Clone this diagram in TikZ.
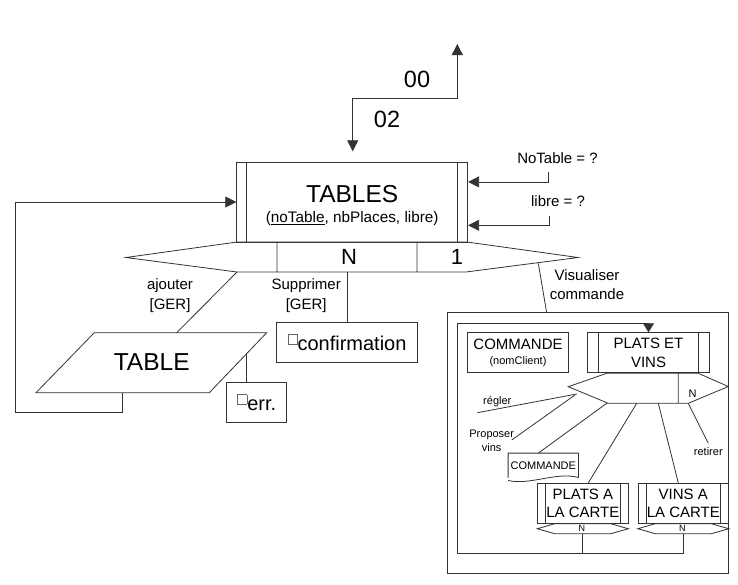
\documentclass[tikz,border=0pt]{standalone}
\usepackage{fontspec}
\setmainfont{Liberation Sans}
\usetikzlibrary{arrows.meta, positioning, calc}

% small check square put before a text
\newcommand{\chkbox}{\raisebox{7pt}{\setlength{\fboxsep}{0pt}\setlength{\fboxrule}{0.7pt}%
  \fcolorbox{black!60}{white}{\rule{0pt}{8.6pt}\rule{8.6pt}{0pt}}}}

\begin{document}
\begin{tikzpicture}[
    x=1pt, y=-1pt,
    >={Triangle[length=11pt, width=11pt]},
    ln/.style    ={draw=black!80, line width=0.8pt},
    flow/.style  ={->, ln},
    box/.style   ={ln, rectangle, inner sep=0pt, align=center},
    ent/.style   ={box, path picture={
                     \draw[ln] ([xshift=#1]path picture bounding box.north west)
                            -- ([xshift=#1]path picture bounding box.south west)
                               ([xshift=-#1]path picture bounding box.north east)
                            -- ([xshift=-#1]path picture bounding box.south east);}},
    rel/.style   ={ln, line join=miter},
    big/.style   ={font=\fontsize{24.5}{28}\selectfont, inner sep=0pt},
    card/.style  ={font=\fontsize{22}{26}\selectfont, inner sep=0pt},
    code/.style  ={font=\fontsize{23.5}{26}\selectfont, inner sep=0pt},
    lbl/.style   ={font=\fontsize{15}{19.3}\selectfont, align=center, inner sep=0pt},
    sm/.style    ={font=\fontsize{11}{14}\selectfont, align=center, inner sep=0pt},
    nlbl/.style  ={font=\fontsize{9}{10}\selectfont, inner sep=0pt}
  ]
  \useasboundingbox (0,0) rectangle (738,584);
  \fill[white] (0,0) rectangle (738,584);

  % entity TABLES and its relation
  \node[ent=10pt, minimum width=231pt, minimum height=80pt] (tables) at (352.2,202) {};
  \node[big, align=center, font=\fontsize{24.5}{19.6}\selectfont] (tablesT) at ($(tables.center)+(0,3.5)$)
        {TABLES\\{\fontsize{15.3}{19.6}\selectfont(\underline{noTable}, nbPlaces, libre)}};
  \draw[rel] (126,257.5) -- (237,242) -- (467,242) -- (578,257.5) -- (466,272) -- (237,272) -- cycle
             (277,242) -- (277,272) (417,242) -- (417,272);
  \node[card] (rN) at (349,257) {N};
  \node[card] (rOne) at (457,257) {1};

  % flows 00 / 02
  \coordinate (inF) at (352.7,98.3);
  \coordinate (outTip) at (457.3,44);
  \draw[ln, <->, shorten >=10.3pt] (outTip) |- (inF) -- (inF |- tables.north);
  \node[code] (lOut) at (417,79) {00};
  \node[code] (lIn) at (387,119) {02};

  % questions on the right
  \node[lbl] (qNoL) at (557.5,158) {NoTable = ?};
  \node[lbl] (qLiL) at (558,201) {libre = ?};
  \coordinate (qNo) at (548.3,172.3);
  \coordinate (qLi) at (549,216);
  \draw[flow] (qNo) |- ($(tables.north east)+(0,20.3)$);
  \draw[flow] (qLi) |- ($(tables.north east)+(0,63.7)$);

  % ajouter
  \coordinate (rAj) at (237,272);
  \coordinate (tabTop) at (176.7,332.7);
  \coordinate (tabBot) at (122.5,392.7);
  \coordinate (tabErr) at (246.7,353.6);
  \coordinate (loopL) at (15.7,412.7);
  \draw[ln] (94.3,332.7) -- (266.7,332.7) -- (209.3,392.7) -- (36,392.7) -- cycle;
  \node[big] (tabl) at (151.7,362) {TABLE};
  \draw[ln] (rAj) -- (tabTop);
  \node[lbl] (lAj) at (170,295.5) {ajouter\\{[GER]}};
  \draw[flow] (tabBot) |- (loopL) |- (tables.west);
  \node[box, minimum width=60pt, minimum height=40pt,
        font=\fontsize{20}{24}\selectfont] (err) at (256.7,402.7) {\chkbox err.};
  \draw[ln] (tabErr) -- (tabErr |- err.north);

  % supprimer
  \coordinate (rSup) at (347,272);
  \node[lbl] (lSup) at (306.2,295.5) {Supprimer\\{[GER]}};
  \node[box, minimum width=140.6pt, minimum height=40pt,
        font=\fontsize{20}{24}\selectfont] (confirm) at (347,342.7) {\chkbox confirmation};
  \draw[ln] (rSup) -- (confirm.north);

  % visualiser commande
  \coordinate (rVis) at (538.3,263.3);
  \node[box, minimum width=281pt, minimum height=260.6pt] (vis) at (587.8,443) {};
  \draw[ln] (rVis) -- ($(vis.north west)+(99.7,0)$);
  \node[lbl] (lVis) at (587,284.5) {Visualiser\\commande};

  \node[box, minimum width=100.6pt, minimum height=40pt,
        font=\fontsize{15}{14.8}\selectfont] (cmd) at (518,352.7)
        {COMMANDE\\{\fontsize{11}{13}\selectfont(nomClient)}};
  \node[ent=10.6pt, minimum width=121.6pt, minimum height=40pt,
        font=\fontsize{15}{19}\selectfont] (pev) at (648.5,352.7) {PLATS ET\\VINS};
  \draw[rel] (568.3,386.7) -- (606.7,373.3) -- (698.3,373.3) -- (728.3,386.5) -- (688.3,403.3)
             -- (608.3,403.3) -- cycle (678.3,373.3) -- (678.3,403.3);
  \node[sm] (iN) at (692.7,393.3) {N};

  \node[ent=7.7pt, minimum width=91pt, minimum height=40pt,
        font=\fontsize{15}{18}\selectfont] (pcart) at (582.8,503.3) {PLATS A\\LA CARTE};
  \node[ent=7.7pt, minimum width=90pt, minimum height=40pt,
        font=\fontsize{15}{18}\selectfont] (vcart) at (683.3,503.3) {VINS A\\LA CARTE};
  \foreach \e in {pcart,vcart}{
    \draw[rel] ($(\e.south)+(-45.5,5)$) -- ($(\e.south)+(-28,0)$) -- ($(\e.south)+(28,0)$)
            -- ($(\e.south)+(45.5,5)$) -- ($(\e.south)+(28,10)$) -- ($(\e.south)+(-28,10)$) -- cycle;
    \node[nlbl] (N\e) at ($(\e.south)+(-1,5)$) {N};
    \coordinate (B\e) at ($(\e.south)+(0,10)$);
  }

  \node[sm, minimum width=70pt, minimum height=24pt] (cmdDoc) at (543.3,465.3) {COMMANDE};
  \draw[ln] (cmdDoc.south west) -- (cmdDoc.north west) -- (cmdDoc.north east) -- (cmdDoc.south east)
            .. controls +(-22,-6) and +(22,5) .. ([yshift=-3pt]cmdDoc.south west);

  % legs of the inner relation
  \coordinate (iRg) at (576.7,394);
  \coordinate (iPv) at (575,395);
  \coordinate (iCm) at (606.7,403.3);
  \coordinate (iPc) at (636.7,403.3);
  \coordinate (iVc) at (658.3,403.3);
  \coordinate (iRt) at (688.3,403.3);
  \coordinate (rgEnd) at (477.3,412.7);
  \coordinate (pvEnd) at (511.7,440);
  \coordinate (rtEnd) at (708.3,443.3);
  \draw[ln] (iRg) -- (rgEnd);
  \draw[ln] (iPv) -- (pvEnd);
  \draw[ln] (iCm) -- ($(cmdDoc.north)+(-5,0)$);
  \draw[ln] (iPc) -- ($(pcart.north)+(5.5,0)$);
  \draw[ln] (iVc) -- ($(vcart.north)+(-5,0)$);
  \draw[ln] (iRt) -- (rtEnd);
  \node[sm] (lRg) at (497.3,401.7) {régler};
  \node[sm] (lPv) at (491.7,440.3) {Proposer\\vins};
  \node[sm] (lRt) at (708.3,451.7) {retirer};

  % return loop of the inner frame
  \coordinate (frBL) at (457.3,553.3);
  \coordinate (frTL) at (457.3,323.3);
  \draw[ln, -{Triangle[length=9pt, width=11pt]}] (Bvcart) |- (frBL) -- (frTL) -| (pev.north);
  \draw[ln] (Bpcart) -- (Bpcart |- frBL);
\end{tikzpicture}
\end{document}
